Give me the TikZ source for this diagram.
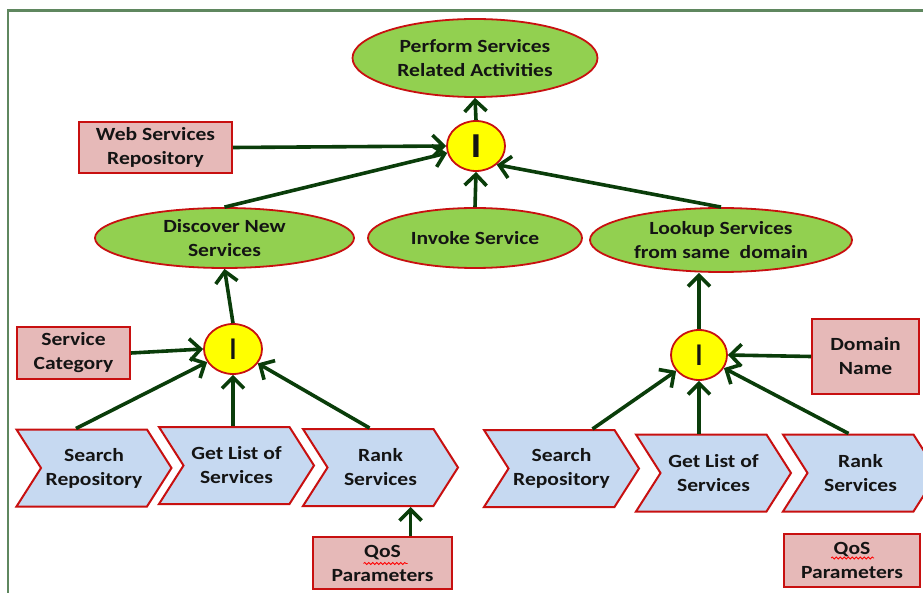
\documentclass[tikz,border=0pt]{standalone}
\usepackage{fontspec}
\setmainfont{Carlito}[FakeStretch=1.16]
\usetikzlibrary{shapes.geometric,shapes.symbols,arrows.meta,calc,decorations.pathmorphing}

\definecolor{leaf}{HTML}{92D050}
\definecolor{bord}{HTML}{C81010}
\definecolor{rose}{HTML}{E6B9B8}
\definecolor{sky}{HTML}{C6D9F1}
\definecolor{sun}{HTML}{FFFF00}
\definecolor{arrowgreen}{HTML}{0A3D0A}
\definecolor{framegreen}{HTML}{5F875F}
\definecolor{txt}{HTML}{141414}

\begin{document}
\begin{tikzpicture}[x=1pt,y=-1pt,
  every node/.style={font=\fontsize{18.6}{24}\selectfont\bfseries, text=txt, align=center, inner sep=0pt},
  goal/.style={ellipse, draw=bord, fill=leaf, line width=1.8pt},
  andnode/.style={ellipse, draw=bord, fill=sun, line width=1.8pt, minimum width=58pt, minimum height=50pt, font=\fontsize{35}{35}\selectfont\bfseries},
  andthin/.style={andnode, font=\fontsize{32}{32}\selectfont},
  databox/.style={rectangle, draw=bord, fill=rose, line width=2pt},
  task/.style={signal, signal to=east, signal from=west, signal pointer angle=115, draw=bord, fill=sky, line width=2pt, minimum width=155pt, minimum height=77pt},
  flow/.style={draw=arrowgreen, line width=3.6pt, -{Straight Barb[length=11pt,width=22pt]}},
  spell/.style={draw=red, line width=0.8pt, decorate, decoration={snake, amplitude=1pt, segment length=4pt}},
]
\useasboundingbox (0,0) rectangle (923,593);

% outer frame
\draw[framegreen, line width=2.2pt] (8,593) -- (8,10.5) -- (923,10.5);

% goals
\node[goal, minimum width=245pt, minimum height=78pt] (perf) at (475,58) {Perform Services\\Related Activities};
\node[andnode] (ctop) at (476,146) {I};
\node[databox, minimum width=153pt, minimum height=51pt] (web) at (155.5,147.5) {Web Services\\Repository};
\node[goal, minimum width=259pt, minimum height=60pt] (disc) at (224.5,238) {Discover New\\Services};
\node[goal, minimum width=214pt, minimum height=60pt] (inv) at (475,238) {Invoke Service};
\node[goal, minimum width=262pt, minimum height=64pt] (look) at (721,240) {Lookup Services\\from same\ \ domain};

% discovery branch
\node[andthin] (cl) at (233,349) {I};
\node[databox, minimum width=113pt, minimum height=52pt] (sc) at (73.5,353) {Service\\Category};
\node[task] (l1) at (94,468) {Search\\Repository};
\node[task] (l2) at (236.5,465.5) {Get List of\\Services};
\node[task] (l3) at (380.5,467.5) {Rank\\Services};
\node[databox, minimum width=139pt, minimum height=52pt] (qosL) at (382.5,563) {QoS\\Parameters};

% lookup branch
\node[andthin, minimum width=56pt] (cr) at (699,355) {I};
\node[databox, minimum width=107pt, minimum height=75pt] (dom) at (865.5,356.5) {Domain\\Name};
\node[task] (r1) at (561.5,468.5) {Search\\Repository};
\node[task] (r2) at (713.5,473) {Get List of\\Services};
\node[task] (r3) at (860.5,473) {Rank\\Services};
\node[databox, minimum width=136pt, minimum height=53pt] (qosR) at (852,560.5) {QoS\\Parameters};

% connectors, top level
\draw[flow] (ctop.north) -- (perf.south);
\draw[flow] (web.east) -- (ctop.west);
\draw[flow] (disc.north) -- (ctop);
\draw[flow] (inv.north) -- (ctop.south);
\draw[flow] (look.north) -- (ctop.-42);

% connectors, discovery branch
\draw[flow] (cl.north) -- (disc.south);
\draw[flow] (sc.east) -- (cl.west);
\draw[flow] ($(l1.north)+(-18,0)$) -- (cl);
\draw[flow] (cl.south |- l2.north) -- (cl.south);
\draw[flow] ($(l3.north)+(-11,0)$) -- (cl);
\coordinate (qtop) at ($(qosL.north)+(28,0)$);
\draw[flow] (qtop) -- (qtop |- l3.south);

% connectors, lookup branch
\draw[flow] (cr.north) -- (cr.north |- look.south);
\draw[flow] (dom.west) -- (cr.east);
\draw[flow] ($(r1.north)+(31,0)$) -- (cr);
\draw[flow] (cr.south |- r2.north) -- (cr.south);
\draw[flow] ($(r3.north)+(-12,0)$) -- (cr);

% spell-check marks under "QoS"
\draw[spell] ($(qosL.center)+(-19,0.5)$) -- ++(44,0);
\draw[spell] ($(qosR.center)+(-21,-2.5)$) -- ++(43,0);
\end{tikzpicture}
\end{document}
